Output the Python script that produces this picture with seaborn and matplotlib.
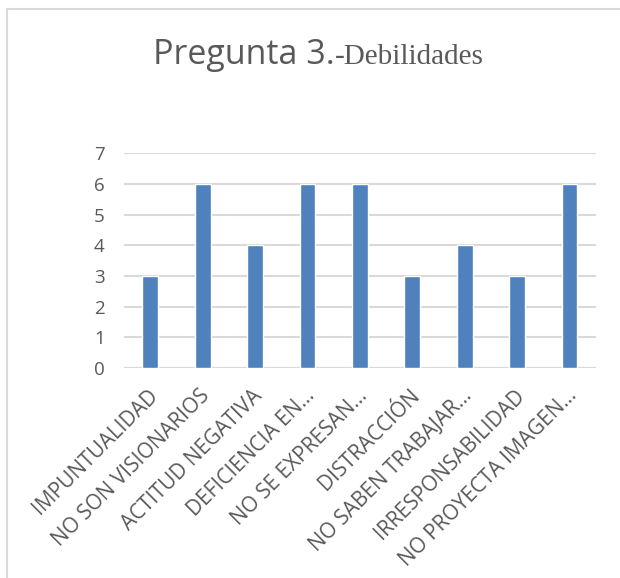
import matplotlib
matplotlib.use("Agg")
import matplotlib.pyplot as plt
import matplotlib.transforms as mtransforms
import seaborn as sns
import pandas as pd
from matplotlib.lines import Line2D

categories = ["IMPUNTUALIDAD", "NO SON VISIONARIOS", "ACTITUD NEGATIVA",
              "DEFICIENCIA EN...", "NO SE EXPRESAN...", "DISTRACCIÓN",
              "NO SABEN TRABAJAR...", "IRRESPONSABILIDAD", "NO PROYECTA IMAGEN..."]
values = [3, 6, 4, 6, 6, 3, 4, 3, 6]
yticks = [0, 1, 2, 3, 4, 5, 6, 7]

sns.set_theme(style="white")
plt.rcParams['font.family'] = ['Open Sans', 'DejaVu Sans']

df = pd.DataFrame({"cat": categories, "val": values})

fig = plt.figure(figsize=(6.2, 5.78), dpi=100)
ax = fig.add_axes([0.2, 0.363, 0.761, 0.372])
sns.barplot(data=df, x="cat", y="val", color="#4F81BD", width=0.3,
            saturation=1, ax=ax, zorder=3)
ax.set_ylim(0, 7)
ax.set_xlim(-0.5, len(categories) - 0.5)
ax.set_yticks(yticks)
ax.yaxis.grid(True, color="#D9D9D9", linewidth=1.5, zorder=0)
ax.set_axisbelow(True)
for s in ax.spines.values():
    s.set_visible(False)
ax.axhline(0, color="#D9D9D9", linewidth=1.5, zorder=1)
ax.set_xlabel("")
ax.set_ylabel("")
ax.tick_params(axis='y', length=0, colors="#595959", labelsize=13.5, pad=14)
ax.tick_params(axis='x', length=0, colors="#595959", labelsize=15, pad=20.5)
offset = mtransforms.ScaledTranslation(8 / 100, 0, fig.dpi_scale_trans)
for lab in ax.get_xticklabels():
    lab.set_rotation(45)
    lab.set_ha('right')
    lab.set_va('baseline')
    lab.set_rotation_mode('anchor')
    lab.set_transform(lab.get_transform() + offset)

# frame lines (top and left)
fig.add_artist(Line2D([6.5/620, 1], [1 - 8.5/578, 1 - 8.5/578], transform=fig.transFigure,
                      color="#D9D9D9", linewidth=1.5))
fig.add_artist(Line2D([6.5/620, 6.5/620], [0, 1 - 8.5/578], transform=fig.transFigure,
                      color="#D9D9D9", linewidth=1.5))

# title in two fonts
ty = 1 - 64/578
t1 = fig.text(0, ty, "Pregunta 3.", fontsize=24.5, color="#595959",
              family=['Open Sans', 'DejaVu Sans'], ha='left', va='baseline')
t2 = fig.text(0, ty, "-Debilidades", fontsize=21, color="#595959",
              family=['Liberation Serif', 'DejaVu Serif'], ha='left', va='baseline')
fig.canvas.draw()
r = fig.canvas.get_renderer()
w1 = t1.get_window_extent(r).width
w2 = t2.get_window_extent(r).width
W = fig.bbox.width
start = (318 - (w1 + w2) / 2)
t1.set_x(start / W)
t2.set_x((start + w1) / W)

fig.savefig("out.png", dpi=100)
